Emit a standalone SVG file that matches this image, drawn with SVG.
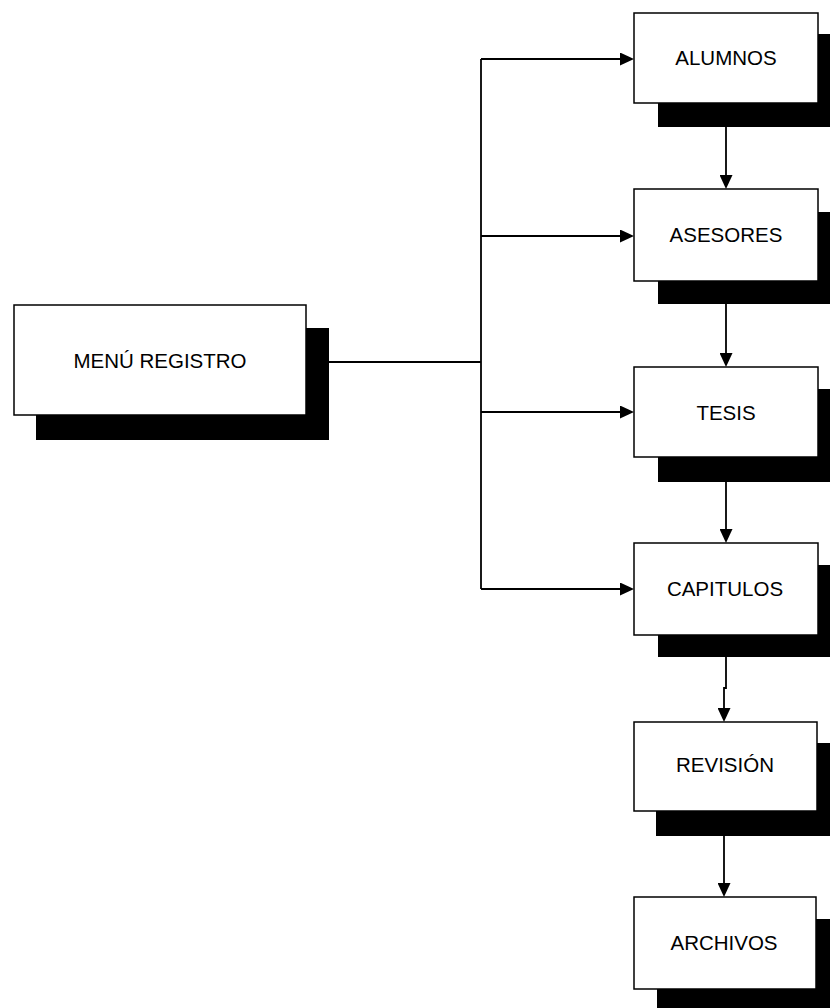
<svg xmlns="http://www.w3.org/2000/svg" width="830" height="1008" viewBox="0 0 830 1008">
<defs>
<style>
.box{fill:#fff;stroke:#000;stroke-width:1.5}
.sh{fill:#000}
.lbl{font-family:"Liberation Sans",Arial,sans-serif;font-size:20.5px;fill:#000;text-anchor:middle}
.con{fill:none;stroke:#000;stroke-width:1.8}
</style>
<marker id="arr" markerUnits="userSpaceOnUse" markerWidth="14" markerHeight="13" refX="11" refY="6.5" orient="auto">
<path d="M0,0 L14,6.5 L0,13 Z" fill="#000"/>
</marker>
</defs>
<rect width="830" height="1008" fill="#fff"/>
<g id="connectors">
<path class="con" d="M306,362 H481"/>
<path class="con" d="M481,59 V589"/>
<path class="con" d="M481,59 H631" marker-end="url(#arr)"/>
<path class="con" d="M481,236 H631" marker-end="url(#arr)"/>
<path class="con" d="M481,412 H631" marker-end="url(#arr)"/>
<path class="con" d="M481,589 H631" marker-end="url(#arr)"/>
<path class="con" d="M726,103 V186" marker-end="url(#arr)"/>
<path class="con" d="M726,281 V364" marker-end="url(#arr)"/>
<path class="con" d="M726,457 V540" marker-end="url(#arr)"/>
<path class="con" d="M726,635 V688 H724 V719" marker-end="url(#arr)"/>
<path class="con" d="M724,811 V894" marker-end="url(#arr)"/>
</g>
<g id="menu">
<rect class="sh" x="36" y="328" width="293" height="112"/>
<rect class="box" x="14" y="305" width="292" height="110"/>
<text class="lbl" x="160" y="368">MENÚ REGISTRO</text>
</g>
<g id="alumnos">
<rect class="sh" x="658" y="34" width="184" height="93"/>
<rect class="box" x="634" y="13" width="184" height="90"/>
<text class="lbl" x="726" y="65">ALUMNOS</text>
</g>
<g id="asesores">
<rect class="sh" x="658" y="212" width="184" height="92"/>
<rect class="box" x="634" y="189" width="184" height="92"/>
<text class="lbl" x="726" y="242">ASESORES</text>
</g>
<g id="tesis">
<rect class="sh" x="658" y="389" width="184" height="93"/>
<rect class="box" x="634" y="367" width="184" height="90"/>
<text class="lbl" x="726" y="420">TESIS</text>
</g>
<g id="capitulos">
<rect class="sh" x="658" y="565" width="184" height="92"/>
<rect class="box" x="634" y="543" width="184" height="92"/>
<text class="lbl" x="725" y="596">CAPITULOS</text>
</g>
<g id="revision">
<rect class="sh" x="656" y="743" width="183" height="93"/>
<rect class="box" x="634" y="722" width="183" height="89"/>
<text class="lbl" x="725" y="772">REVISIÓN</text>
</g>
<g id="archivos">
<rect class="sh" x="657" y="919" width="182" height="94"/>
<rect class="box" x="634" y="897" width="182" height="92"/>
<text class="lbl" x="724" y="950">ARCHIVOS</text>
</g>
</svg>
